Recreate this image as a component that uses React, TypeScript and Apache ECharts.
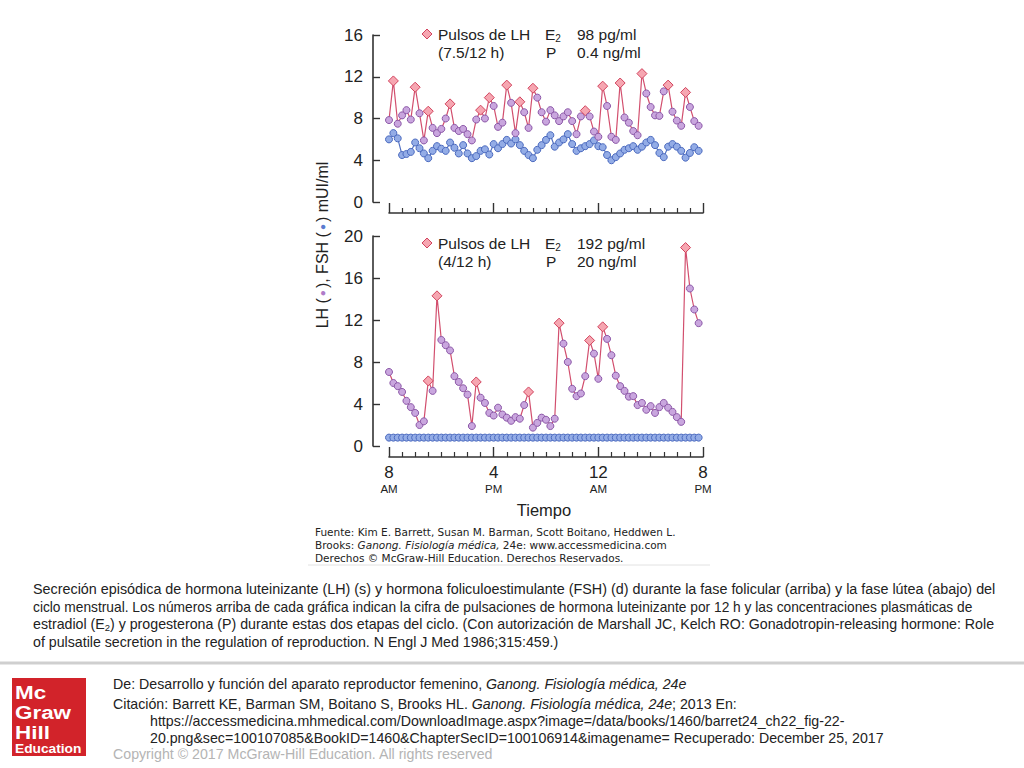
import React, { useEffect, useRef } from 'react';
import * as echarts from 'echarts';

// ---- data ----
const SAMPLE_STEP_HOURS = 1 / 3; // one sample every 20 minutes

const LH_FOLICULAR = [
  7.85, 11.6, 7.5, 8.3, 8.8, 7.9, 11.0, 8.5, 5.9, 8.7,
  7.1, 6.6, 7.0, 8.0, 9.4, 7.1, 6.8, 7.0, 6.5, 5.9,
  7.9, 8.8, 8.0, 10.0, 9.2, 7.2, 7.6, 11.2, 9.5, 6.6,
  9.6, 8.6, 7.1, 10.9, 10.0, 8.6, 7.7, 8.8, 8.3, 7.75,
  8.2, 8.6, 7.75, 6.5, 8.2, 8.75, 8.2, 6.75, 6.25, 11.1,
  9.2, 6.25, 5.95, 11.4, 8.1, 7.6, 6.8, 6.4, 12.3, 10.4,
  9.1, 8.3, 8.25, 10.6, 11.2, 8.65, 7.8, 7.3, 10.5, 9.1,
  7.75, 7.3,
];
const FSH_FOLICULAR = [
  6.0, 6.6, 6.1, 4.5, 4.6, 4.8, 5.7, 5.15, 4.65, 4.2,
  4.9, 5.35, 5.1, 4.9, 5.7, 5.2, 4.65, 5.45, 4.65, 4.2,
  4.4, 4.9, 5.05, 4.55, 5.55, 5.15, 5.55, 5.95, 5.6, 6.0,
  5.45, 4.9, 4.5, 4.2, 5.0, 5.45, 5.95, 6.4, 5.3, 5.7,
  6.0, 6.5, 5.55, 4.9, 5.15, 5.35, 5.55, 5.9, 5.35, 5.25,
  4.5, 4.0, 4.3, 4.65, 5.0, 5.15, 5.35, 5.0, 5.3, 5.7,
  5.95, 5.45, 4.7, 4.3, 5.3, 5.55, 5.3, 4.9, 4.25, 4.7,
  5.25, 4.9,
];
const PULSES_FOLICULAR = [1, 6, 9, 14, 21, 23, 27, 30, 33, 45, 49, 53, 58, 64, 68];

const LH_LUTEAL = [
  7.05, 6.0, 5.7, 5.15, 4.3, 3.7, 3.15, 2.0, 2.35, 6.2,
  5.25, 14.3, 10.1, 9.6, 9.1, 6.65, 6.1, 5.5, 4.9, 1.9,
  6.1, 4.6, 4.1, 3.15, 2.9, 3.65, 3.0, 2.7, 2.4, 2.75,
  2.6, 3.9, 5.15, 1.75, 2.2, 2.7, 2.5, 1.9, 2.6, 11.7,
  9.75, 8.0, 5.45, 4.75, 5.0, 6.65, 10.05, 8.8, 6.4, 11.35,
  10.2, 8.65, 6.7, 5.7, 5.25, 4.7, 4.75, 3.9, 4.1, 3.45,
  3.8, 3.15, 3.7, 4.1, 3.65, 3.25, 2.75, 2.3, 18.9, 15.0,
  13.0, 11.7,
];
const FSH_LUTEAL = [
  0.8, 0.8, 0.8, 0.8, 0.8, 0.8, 0.8, 0.8, 0.8, 0.8,
  0.8, 0.8, 0.8, 0.8, 0.8, 0.8, 0.8, 0.8, 0.8, 0.8,
  0.8, 0.8, 0.8, 0.8, 0.8, 0.8, 0.8, 0.8, 0.8, 0.8,
  0.8, 0.8, 0.8, 0.8, 0.8, 0.8, 0.8, 0.8, 0.8, 0.8,
  0.8, 0.8, 0.8, 0.8, 0.8, 0.8, 0.8, 0.8, 0.8, 0.8,
  0.8, 0.8, 0.8, 0.8, 0.8, 0.8, 0.8, 0.8, 0.8, 0.8,
  0.8, 0.8, 0.8, 0.8, 0.8, 0.8, 0.8, 0.8, 0.8, 0.8,
  0.8, 0.8,
];
const PULSES_LUTEAL = [9, 11, 20, 32, 39, 46, 49, 68];

const X_TICK_HOURS = [0, 8, 16, 24];
const X_TICK_NUMBERS = ['8', '4', '12', '8'];
const X_TICK_PERIODS = ['AM', 'PM', 'AM', 'PM'];
const Y_MAX_FOLICULAR = 16;
const Y_MAX_LUTEAL = 20;

const PULSE_RATE_TEXT = ['(7.5/12 h)', '(4/12 h)'];
const E2_TEXT = ['98 pg/ml', '192 pg/ml'];
const P_TEXT = ['0.4 ng/ml', '20 ng/ml'];

const CAPTION_LINES = [
  'Secreción episódica de hormona luteinizante (LH) (s) y hormona foliculoestimulante (FSH) (d) durante la fase folicular (arriba) y la fase lútea (abajo) del',
  'ciclo menstrual. Los números arriba de cada gráfica indican la cifra de pulsaciones de hormona luteinizante por 12 h y las concentraciones plasmáticas de',
];
const CAPTION_LINE3 = ['estradiol (E', '2', ') y progesterona (P) durante estas dos etapas del ciclo. (Con autorización de Marshall JC, Kelch RO: Gonadotropin-releasing hormone: Role'];
const CAPTION_LINE4 = 'of pulsatile secretion in the regulation of reproduction. N Engl J Med 1986;315:459.)';

// ---- styles ----
const FONT = '"Liberation Sans", Arial, Helvetica, sans-serif';
const FONT_SRC = '"DejaVu Sans", Verdana, sans-serif';
const AXIS = '#333';
const TXT = '#222';
const LH_LINE = '#d24f6e';
const LH_FILL = '#c9a6de';
const LH_BORDER = '#8c58a8';
const PULSE_FILL = '#f6a6b1';
const PULSE_BORDER = '#d2445e';
const FSH_LINE = '#5170c2';
const FSH_FILL = '#93ace6';
const FSH_BORDER = '#4b6abf';

const toPoints = (vals: number[]) => vals.map((v, i) => [i * SAMPLE_STEP_HOURS, v]);
const lhPoints = (vals: number[], pulses: number[]) =>
  vals.map((v, i) =>
    pulses.includes(i)
      ? {
          value: [i * SAMPLE_STEP_HOURS, v],
          symbol: 'diamond',
          symbolSize: 10,
          itemStyle: { color: PULSE_FILL, borderColor: PULSE_BORDER, borderWidth: 1 },
        }
      : [i * SAMPLE_STEP_HOURS, v]
  );

const xAxisFor = (gridIndex: number, showLabels: boolean) => ({
  type: 'value',
  gridIndex,
  min: 0,
  max: 24,
  interval: 8,
  offset: 11,
  axisLine: { show: true, onZero: false, lineStyle: { color: AXIS, width: 1.6 } },
  axisTick: { show: true, inside: true, length: 10, lineStyle: { color: AXIS, width: 1.4 } },
  minorTick: { show: true, splitNumber: 8, length: 5, lineStyle: { color: AXIS, width: 1.2 } },
  splitLine: { show: false },
  minorSplitLine: { show: false },
  axisLabel: showLabels
    ? {
        show: true,
        margin: 7,
        showMinLabel: true,
        showMaxLabel: true,
        formatter: (v: number) => {
          const k = X_TICK_HOURS.indexOf(v);
          return k < 0 ? '' : `{n|${X_TICK_NUMBERS[k]}}\n{p|${X_TICK_PERIODS[k]}}`;
        },
        rich: {
          n: { fontSize: 17, lineHeight: 17, color: TXT, fontFamily: FONT, align: 'center' },
          p: { fontSize: 11.5, lineHeight: 15, color: TXT, fontFamily: FONT, align: 'center' },
        },
      }
    : { show: false },
});

const yAxisFor = (gridIndex: number, max: number) => ({
  type: 'value',
  gridIndex,
  min: 0,
  max,
  interval: 4,
  offset: 16,
  axisLine: { show: true, onZero: false, lineStyle: { color: AXIS, width: 1.6 } },
  axisTick: { show: true, inside: true, length: 7, lineStyle: { color: AXIS, width: 1.4 } },
  axisLabel: { color: TXT, fontSize: 17, fontFamily: FONT, margin: 10 },
  splitLine: { show: false },
});

const seriesBase = {
  type: 'line',
  symbol: 'circle',
  symbolSize: 7,
  showSymbol: true,
  showAllSymbol: true,
  silent: true,
  emphasis: { disabled: true },
  animation: false,
};

const txt = (x: number, y: number, text: string, extra: any = {}) => ({
  type: 'text',
  x,
  y,
  silent: true,
  scaleX: extra.scaleX || 1,
  style: {
    text,
    fill: extra.fill || TXT,
    fontSize: extra.fontSize || 15.5,
    fontFamily: extra.fontFamily || FONT,
    fontWeight: extra.fontWeight || 'normal',
    fontStyle: extra.fontStyle || 'normal',
    align: extra.align || 'left',
    textAlign: extra.align || 'left',
    verticalAlign: 'middle',
    textVerticalAlign: 'middle',
    rich: extra.rich,
  },
  rotation: extra.rotation || 0,
});

const legendGroup = (top: number, k: number) => [
  {
    type: 'polygon',
    silent: true,
    shape: { points: [[427, top - 5], [432, top], [427, top + 5], [422, top]] },
    style: { fill: PULSE_FILL, stroke: PULSE_BORDER, lineWidth: 1 },
  },
  txt(438, top, 'Pulsos de LH'),
  txt(438, top + 18, PULSE_RATE_TEXT[k]),
  txt(545, top, '{m|E}{s|2}', {
    rich: {
      m: { fontSize: 15.5, lineHeight: 18, fontFamily: FONT, fill: TXT, color: TXT },
      s: { fontSize: 10, lineHeight: 10, fontFamily: FONT, fill: TXT, color: TXT, verticalAlign: 'bottom' },
    },
  }),
  txt(577, top, E2_TEXT[k]),
  txt(546, top + 18, 'P'),
  txt(577, top + 18, P_TEXT[k]),
];

const richBody = (size: number) => ({
  n: { fontSize: size, fontFamily: FONT, fill: TXT, color: TXT },
  i: { fontSize: size, fontFamily: FONT, fontStyle: 'italic', fill: TXT, color: TXT },
});

const LOGO_WHITE = { fill: '#ffffff', fontWeight: 'bold' };

const option: any = {
  animation: false,
  backgroundColor: '#ffffff',
  grid: [
    { left: 389, top: 35, width: 314, height: 167 },
    { left: 389, top: 236, width: 314, height: 210 },
  ],
  xAxis: [xAxisFor(0, false), xAxisFor(1, true)],
  yAxis: [yAxisFor(0, Y_MAX_FOLICULAR), yAxisFor(1, Y_MAX_LUTEAL)],
  series: [
    {
      ...seriesBase,
      name: 'FSH folicular',
      xAxisIndex: 0,
      yAxisIndex: 0,
      z: 2,
      data: toPoints(FSH_FOLICULAR),
      lineStyle: { color: FSH_LINE, width: 1.2 },
      itemStyle: { color: FSH_FILL, borderColor: FSH_BORDER, borderWidth: 1 },
    },
    {
      ...seriesBase,
      name: 'LH folicular',
      xAxisIndex: 0,
      yAxisIndex: 0,
      z: 3,
      data: lhPoints(LH_FOLICULAR, PULSES_FOLICULAR),
      lineStyle: { color: LH_LINE, width: 1.2 },
      itemStyle: { color: LH_FILL, borderColor: LH_BORDER, borderWidth: 1 },
    },
    {
      ...seriesBase,
      name: 'FSH lútea',
      xAxisIndex: 1,
      yAxisIndex: 1,
      z: 2,
      data: toPoints(FSH_LUTEAL),
      lineStyle: { color: FSH_LINE, width: 1.2 },
      itemStyle: { color: FSH_FILL, borderColor: FSH_BORDER, borderWidth: 1 },
    },
    {
      ...seriesBase,
      name: 'LH lútea',
      xAxisIndex: 1,
      yAxisIndex: 1,
      z: 3,
      data: lhPoints(LH_LUTEAL, PULSES_LUTEAL),
      lineStyle: { color: LH_LINE, width: 1.2 },
      itemStyle: { color: LH_FILL, borderColor: LH_BORDER, borderWidth: 1 },
    },
  ],
  graphic: [
    // y axis title
    txt(322, 245, '{t|LH (}{a|●}{t|), FSH (}{b|●}{t|) mUI/ml}', {
      rotation: Math.PI / 2,
      align: 'center',
      rich: {
        t: { fontSize: 16, fontFamily: FONT, fill: TXT, color: TXT },
        a: { fontSize: 10, fontFamily: FONT, fill: '#b07cc9', color: '#b07cc9', padding: [0, 2, 0, 2] },
        b: { fontSize: 10, fontFamily: FONT, fill: '#5b7bcf', color: '#5b7bcf', padding: [0, 2, 0, 2] },
      },
    }),
    ...legendGroup(34, 0),
    ...legendGroup(243, 1),
    txt(544, 510, 'Tiempo', { align: 'center', fontSize: 16.5 }),
    // source
    txt(315, 532, 'Fuente: Kim E. Barrett, Susan M. Barman, Scott Boitano, Heddwen L.', {
      fontFamily: FONT_SRC,
      fontSize: 10.5,
    }),
    txt(315, 545, '{n|Brooks: }{i|Ganong. Fisiología médica,}{n| 24e: www.accessmedicina.com}', {
      fontFamily: FONT_SRC,
      fontSize: 10.5,
      rich: {
        n: { fontSize: 10.5, fontFamily: FONT_SRC, fill: TXT, color: TXT },
        i: { fontSize: 10.5, fontFamily: FONT_SRC, fontStyle: 'italic', fill: TXT, color: TXT },
      },
    }),
    txt(315, 558, 'Derechos © McGraw-Hill Education. Derechos Reservados.', {
      fontFamily: FONT_SRC,
      fontSize: 10.5,
    }),
    {
      type: 'line',
      silent: true,
      shape: { x1: 308, y1: 565, x2: 710, y2: 565 },
      style: { stroke: '#e2e2e2', lineWidth: 1 },
    },
    // caption
    txt(33, 589, CAPTION_LINES[0], { fontSize: 14.35 }),
    txt(33, 607, CAPTION_LINES[1], { fontSize: 13.75 }),
    txt(33, 624, `{n|${CAPTION_LINE3[0]}}{s|${CAPTION_LINE3[1]}}{n|${CAPTION_LINE3[2]}}`, {
      fontSize: 14.2,
      rich: {
        n: { fontSize: 14.2, lineHeight: 16, fontFamily: FONT, fill: TXT, color: TXT },
        s: { fontSize: 9.5, lineHeight: 9, fontFamily: FONT, fill: TXT, color: TXT, verticalAlign: 'bottom' },
      },
    }),
    txt(33, 642, CAPTION_LINE4, { fontSize: 14.2 }),
    // separator
    {
      type: 'rect',
      silent: true,
      shape: { x: 0, y: 661.5, width: 1024, height: 3 },
      style: { fill: '#cfcfcf' },
    },
    // logo
    {
      type: 'rect',
      silent: true,
      shape: { x: 12, y: 678, width: 74, height: 78 },
      style: { fill: '#d2232a' },
    },
    txt(15, 692, 'Mc', { ...LOGO_WHITE, fontSize: 19, scaleX: 1.18 }),
    txt(15, 712, 'Graw', { ...LOGO_WHITE, fontSize: 19, scaleX: 1.18 }),
    txt(15, 732, 'Hill', { ...LOGO_WHITE, fontSize: 19, scaleX: 1.18 }),
    txt(15, 749, 'Education', { ...LOGO_WHITE, fontSize: 12.5, scaleX: 1.1 }),
    // footer
    txt(113, 684, '{n|De: Desarrollo y función del aparato reproductor femenino, }{i|Ganong. Fisiología médica, 24e}', {
      rich: richBody(14.2),
    }),
    txt(113, 704, '{n|Citación: Barrett KE, Barman SM, Boitano S, Brooks HL. }{i|Ganong. Fisiología médica, 24e}{n|; 2013 En:}', {
      rich: richBody(14.2),
    }),
    txt(150, 721, 'https://accessmedicina.mhmedical.com/DownloadImage.aspx?image=/data/books/1460/barret24_ch22_fig-22-', {
      fontSize: 14.2,
    }),
    txt(150, 738, '20.png&sec=100107085&BookID=1460&ChapterSecID=100106914&imagename= Recuperado: December 25, 2017', {
      fontSize: 14.2,
    }),
    txt(113, 754, 'Copyright © 2017 McGraw-Hill Education. All rights reserved', {
      fontSize: 14.2,
      fill: '#b4b4b4',
    }),
  ],
};

export default function App() {
  const ref = useRef<HTMLDivElement>(null);
  useEffect(() => {
    if (!ref.current) return;
    const chart = echarts.init(ref.current, null, { renderer: 'svg' });
    chart.setOption(option);
    return () => {
      chart.dispose();
    };
  }, []);
  return (
    <div
      ref={ref}
      style={{ position: 'fixed', left: 0, top: 0, width: 1024, height: 768, background: '#ffffff' }}
    />
  );
}
